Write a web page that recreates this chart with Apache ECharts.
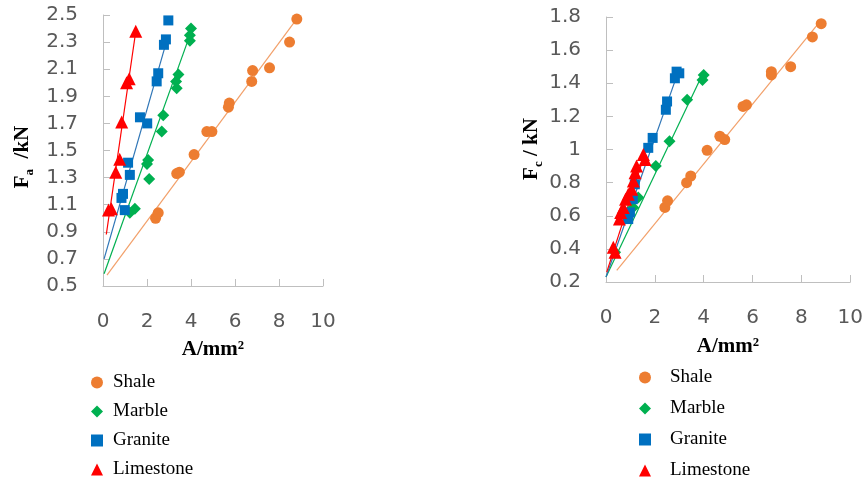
<!DOCTYPE html>
<html>
<head>
<meta charset="utf-8">
<script src="https://cdn.jsdelivr.net/npm/echarts@6/dist/echarts.min.js"></script>
<style>html,body{margin:0;padding:0;background:#fff;}#c{width:866px;height:484px;}</style>
</head>
<body>
<div id="c"></div>
<script>
// ---------- Left chart: Fa vs A ----------
var shaleA  = [2.39, 2.51, 3.35, 3.47, 4.14, 4.72, 4.95, 5.70, 5.74, 6.76, 6.80, 7.57, 8.48, 8.81];
var shaleFa = [1.00, 1.04, 1.33, 1.34, 1.47, 1.64, 1.64, 1.82, 1.85, 2.01, 2.09, 2.11, 2.30, 2.47];
var marbleA  = [1.22, 1.45, 2.10, 2.00, 2.05, 2.67, 2.74, 3.35, 3.32, 3.43, 3.95, 3.95, 4.00];
var marbleFa = [1.04, 1.07, 1.29, 1.40, 1.43, 1.64, 1.76, 1.96, 2.01, 2.06, 2.31, 2.35, 2.40];
var graniteA  = [0.99, 0.84, 0.91, 1.22, 1.14, 1.68, 2.01, 2.44, 2.51, 2.77, 2.86, 2.97];
var graniteFa = [1.06, 1.15, 1.18, 1.32, 1.41, 1.745, 1.70, 2.01, 2.07, 2.28, 2.32, 2.46];
var limeA  = [0.25, 0.38, 0.58, 0.76, 0.85, 1.07, 1.19, 1.49];
var limeFa = [1.06, 1.07, 1.34, 1.435, 1.71, 2.00, 2.03, 2.38];
// trendline end points [A, F]
var shaleFitA   = [[0.18, 0.58], [8.80, 2.47]];
var marbleFitA  = [[0.05, 0.59], [3.99, 2.37]];
var graniteFitA = [[0.05, 0.70], [2.95, 2.34]];
var limeFitA    = [[0.15, 0.88], [1.49, 2.38]];

// ---------- Right chart: Fc vs A ----------
var shaleA2  = [2.41, 2.52, 3.30, 3.47, 4.14, 4.66, 4.86, 5.61, 5.75, 6.77, 6.77, 7.56, 8.45, 8.81];
var shaleFc  = [0.65, 0.69, 0.80, 0.84, 0.995, 1.08, 1.06, 1.26, 1.27, 1.45, 1.47, 1.50, 1.68, 1.76];
var marbleA2 = [0.37, 1.11, 1.32, 2.04, 2.60, 3.32, 3.95, 4.00];
var marbleFc = [0.38, 0.65, 0.71, 0.90, 1.05, 1.30, 1.42, 1.45];
var graniteA2 = [0.91, 0.98, 1.10, 1.18, 1.73, 1.91, 2.45, 2.50, 2.82, 2.89, 3.00];
var graniteFc = [0.58, 0.62, 0.70, 0.79, 1.01, 1.07, 1.24, 1.29, 1.43, 1.47, 1.46];
var limeA2 = [0.30, 0.37, 0.55, 0.60, 0.71, 0.80, 0.91, 1.05, 1.12, 1.19, 1.25, 1.53, 1.60];
var limeFc = [0.41, 0.38, 0.58, 0.62, 0.65, 0.70, 0.73, 0.76, 0.81, 0.86, 0.90, 0.97, 0.94];
var shaleFitC   = [[0.44, 0.27], [8.80, 1.78]];
var marbleFitC  = [[0.00, 0.23], [4.00, 1.47]];
var graniteFitC = [[0.00, 0.23], [2.96, 1.47]];
var limeFitC    = [[0.03, 0.26], [1.60, 0.98]];

var names = ['Shale', 'Marble', 'Granite', 'Limestone'];
var xTicks = [0, 2, 4, 6, 8, 10];

function zip(a, b) { return a.map(function (v, i) { return [v, b[i]]; }); }

var colors = { Shale: '#ED7D31', Marble: '#00B050', Granite: '#0070C0', Limestone: '#FF0000' };
var lineColors = { Shale: '#F2A06A', Marble: '#00B050', Granite: '#2E75B6', Limestone: '#FF0000' };
var symbols = { Shale: 'circle', Marble: 'diamond', Granite: 'rect', Limestone: 'triangle' };
var sizes = { Shale: 11, Marble: 12, Granite: 10, Limestone: 13 };

var axisGray = '#BFBFBF';
var labelGray = '#595959';
var numFont = 'DejaVu Sans';
var serif = 'Liberation Serif';

function xAx(idx) {
  return {
    type: 'value', gridIndex: idx, min: 0, max: 10, interval: 2,
    axisLine: { show: true, lineStyle: { color: axisGray, width: 1 } },
    axisTick: { show: true, inside: true, length: 7, lineStyle: { color: axisGray } },
    splitLine: { show: false },
    axisLabel: { color: labelGray, fontSize: 20, fontFamily: numFont, margin: 26 }
  };
}
function yAx(idx, mn, mx) {
  return {
    type: 'value', gridIndex: idx, min: mn, max: mx, interval: 0.2,
    axisLine: { show: true, lineStyle: { color: axisGray, width: 1 } },
    axisTick: { show: true, inside: true, length: 7, lineStyle: { color: axisGray } },
    splitLine: { show: false },
    axisLabel: {
      color: labelGray, fontSize: 20, fontFamily: numFont, margin: 25,
      formatter: function (v) { return String(parseFloat(v.toFixed(1))); }
    }
  };
}

var leftData = {
  Shale: [zip(shaleA, shaleFa), shaleFitA],
  Marble: [zip(marbleA, marbleFa), marbleFitA],
  Granite: [zip(graniteA, graniteFa), graniteFitA],
  Limestone: [zip(limeA, limeFa), limeFitA]
};
var rightData = {
  Shale: [zip(shaleA2, shaleFc), shaleFitC],
  Marble: [zip(marbleA2, marbleFc), marbleFitC],
  Granite: [zip(graniteA2, graniteFc), graniteFitC],
  Limestone: [zip(limeA2, limeFc), limeFitC]
};

var series = [];
[leftData, rightData].forEach(function (set, gi) {
  names.forEach(function (n) {
    series.push({
      type: 'line', xAxisIndex: gi, yAxisIndex: gi, data: set[n][1],
      showSymbol: false, silent: true, z: 1,
      lineStyle: { color: lineColors[n], width: 1.2 }
    });
  });
  names.forEach(function (n) {
    series.push({
      type: 'scatter', name: n, xAxisIndex: gi, yAxisIndex: gi, data: set[n][0],
      symbol: symbols[n], symbolSize: sizes[n], z: 2,
      itemStyle: { color: colors[n], opacity: 1 }
    });
  });
});

function legend(left, top, gap, textPad) {
  return {
    data: names, orient: 'vertical', left: left, top: top, itemGap: gap,
    itemWidth: 12, itemHeight: 12, padding: 0, selectedMode: false,
    textStyle: { fontFamily: serif, fontSize: 19, color: '#000', padding: [0, 0, 0, textPad] }
  };
}

var subRich = {
  F: { fontFamily: serif, fontWeight: 'bold', fontSize: 21, color: '#000', lineHeight: 26 },
  s: { fontFamily: serif, fontWeight: 'bold', fontSize: 13, color: '#000', verticalAlign: 'bottom', lineHeight: 13 }
};

var option = {
  backgroundColor: '#fff',
  animation: false,
  grid: [
    { left: 103, top: 15, width: 220, height: 271 },
    { left: 606, top: 17, width: 245, height: 265 }
  ],
  xAxis: [xAx(0), xAx(1)],
  yAxis: [yAx(0, 0.5, 2.5), yAx(1, 0.2, 1.8)],
  legend: [legend(91, 373, 10, 5), legend(639, 368, 12, 14)],
  graphic: [
    { type: 'text', x: 23, y: 157, rotation: Math.PI / 2,
      style: { text: '{F|F}{s|a}{F|  /kN}', rich: subRich, align: 'center', verticalAlign: 'middle' } },
    { type: 'text', x: 532, y: 149, rotation: Math.PI / 2,
      style: { text: '{F|F}{s|c}{F| / kN}', rich: subRich, align: 'center', verticalAlign: 'middle' } },
    { type: 'text', x: 213, y: 350,
      style: { text: 'A/mm²', font: 'bold 21px "Liberation Serif"', fill: '#000', align: 'center', verticalAlign: 'middle' } },
    { type: 'text', x: 728, y: 347,
      style: { text: 'A/mm²', font: 'bold 21px "Liberation Serif"', fill: '#000', align: 'center', verticalAlign: 'middle' } }
  ],
  series: series
};

var chart = echarts.init(document.getElementById('c'), null, { renderer: 'canvas' });
chart.setOption(option);
</script>
</body>
</html>
